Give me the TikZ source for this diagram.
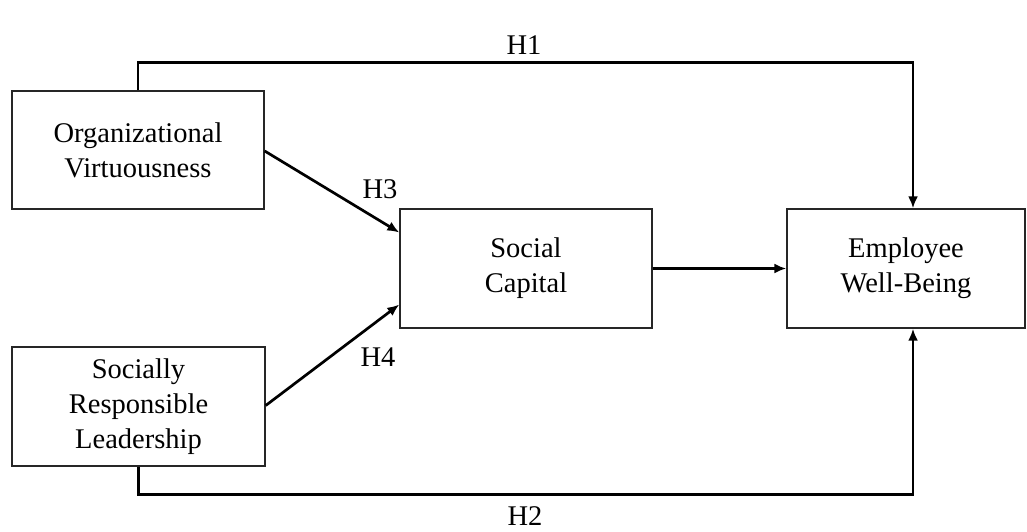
\documentclass[tikz,border=0pt]{standalone}
\usepackage{fontspec}
\setmainfont{Liberation Serif}
\usetikzlibrary{arrows.meta,calc}
\begin{document}
\begin{tikzpicture}[x=1pt,y=-1pt,
  box/.style={draw=black!85,line width=1.4pt,rectangle,align=center,inner sep=0pt,
    font=\fontsize{28.5}{35}\selectfont},
  conn/.style={line width=2.7pt,-{Latex[length=12pt,width=10pt]}},
  lbl/.style={font=\fontsize{28.5}{35}\selectfont,inner sep=0pt}]
\useasboundingbox (0,0) rectangle (1027,531);
\node[box,minimum width=252pt,minimum height=118pt] (OV) at (138,150) {Organizational\\Virtuousness};
\node[box,minimum width=253pt,minimum height=119pt] (SRL) at (138.5,406.5) {Socially\\Responsible\\Leadership};
\node[box,minimum width=252pt,minimum height=119pt] (SC) at (526,268.5) {Social\\Capital};
\node[box,minimum width=238pt,minimum height=119pt] (EW) at (906,268.5) {Employee\\Well-Being};
\coordinate (t1) at ([xshift=7pt]EW.north);
\coordinate (t2) at ([xshift=7pt]EW.south);
\draw[conn] (OV.north) -- ++(0,-28) -| (t1);
\draw[conn] (SRL.south) -- ++(0,28) -| (t2);
\draw[conn] ([yshift=-1pt]OV.east) -- ([yshift=36pt]SC.west);
\draw[conn] ([yshift=1pt]SRL.east) -- ([yshift=-36pt]SC.west);
\draw[conn] (SC.east) -- (EW.west);
\node[lbl] (H1) at (524,45) {H1};
\node[lbl] (H2) at (525,516) {H2};
\node[lbl] (H3) at (380,189) {H3};
\node[lbl] (H4) at (378,357) {H4};
\end{tikzpicture}
\end{document}
